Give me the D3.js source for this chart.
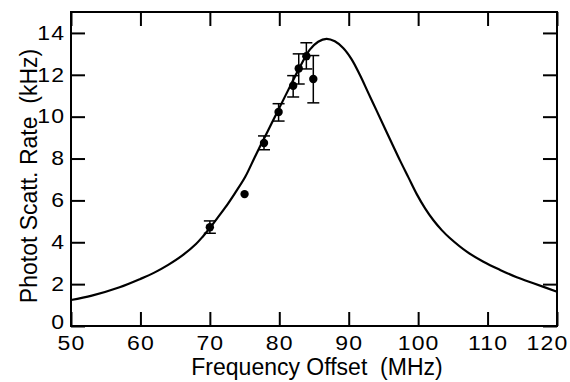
<!DOCTYPE html>
<html>
<head>
<meta charset="utf-8">
<script src="https://cdn.jsdelivr.net/npm/d3@7"></script>
<style>
  body { margin: 0; background: #fff; }
  svg { display: block; }
  .tick text { font-family: "Liberation Sans", Arial, Helvetica, sans-serif; font-size: 19.5px; letter-spacing: 1px; fill: #000; }
  .title { font-family: "Liberation Sans", Arial, Helvetica, sans-serif; font-size: 23px; fill: #000; white-space: pre; }
</style>
</head>
<body>
<div id="chart"></div>
<script>
// fitted curve (MHz, kHz)
const curveFreq = [50, 53, 57, 60, 62, 64, 66, 68, 69, 70, 71, 72.2, 73.6, 75.1, 76.5, 77.7, 78.9, 80.1, 81.3, 83, 84.4, 85.6, 86.8, 88, 89.2, 90.4, 91.6, 92.8, 94, 95.2, 96.4, 97.4, 98.6, 99.8, 101, 102.2, 103.4, 104.6, 107, 109.4, 111.8, 114.2, 116.6, 120];
const curveRate = [1.24, 1.45, 1.85, 2.25, 2.55, 2.92, 3.36, 3.92, 4.28, 4.68, 5.12, 5.65, 6.34, 7.13, 8.09, 8.89, 9.68, 10.48, 11.28, 12.39, 13.2, 13.58, 13.72, 13.6, 13.28, 12.75, 12.0, 11.15, 10.3, 9.45, 8.6, 7.9, 7.1, 6.3, 5.62, 5.05, 4.58, 4.19, 3.55, 3.07, 2.68, 2.33, 2.04, 1.64];

// measured points with error bars
const ptFreq = [70, 75, 77.8, 79.9, 82, 82.8, 83.9, 84.9];
const ptRate = [4.72, 6.3, 8.74, 10.22, 11.48, 12.3, 12.89, 11.8];
const ptLow  = [4.43, 6.3, 8.42, 9.79, 10.94, 11.56, 12.28, 10.66];
const ptHigh = [5.02, 6.3, 9.08, 10.62, 11.96, 13.0, 13.53, 12.92];

const xTicks = [50, 60, 70, 80, 90, 100, 110, 120];
const yTicks = [0, 2, 4, 6, 8, 10, 12, 14];

const W = 570, H = 382;
const margin = {top: 12, right: 13, bottom: 56, left: 71};
const width = W - margin.left - margin.right;
const height = H - margin.top - margin.bottom;

const svg = d3.select("#chart").append("svg")
    .attr("width", W)
    .attr("height", H);

const g = svg.append("g")
    .attr("transform", `translate(${margin.left},${margin.top})`);

const x = d3.scaleLinear().domain([50, 120]).range([0, width]);
const y = d3.scaleLinear().domain([0, 15]).range([height, 0]);

const tickLen = 14;
const stretch = 1.18; // tick digits are drawn wide in the original

// axes, ticks pointing inward
const xAxis = g.append("g")
    .attr("transform", `translate(0,${height})`)
    .call(d3.axisBottom(x).tickValues(xTicks).tickSize(-tickLen).tickPadding(10).tickFormat(d3.format("d")));
g.append("g")
    .call(d3.axisTop(x).tickValues(xTicks).tickSize(-tickLen).tickFormat(""));
const yAxis = g.append("g")
    .call(d3.axisLeft(y).tickValues(yTicks).tickSize(-tickLen).tickPadding(5).tickFormat(d3.format("d")));
g.append("g")
    .attr("transform", `translate(${width},0)`)
    .call(d3.axisRight(y).tickValues(yTicks).tickSize(-tickLen).tickFormat(""));

g.selectAll(".domain").remove();
g.selectAll(".tick line").attr("stroke", "#000").attr("stroke-width", 2);

xAxis.selectAll(".tick text").attr("transform", `scale(${stretch},1)`);
yAxis.selectAll(".tick text").attr("transform", `scale(${stretch},1)`);
// the "0" sits a little above its tick, clear of the "50"
yAxis.selectAll(".tick text").filter(d => d === 0).attr("y", -4);
// keep the last x label inside the picture
xAxis.selectAll(".tick text").filter(d => d === 120)
    .attr("text-anchor", "end")
    .attr("x", 11 / stretch);

// frame
g.append("rect")
    .attr("width", width)
    .attr("height", height)
    .attr("fill", "none")
    .attr("stroke", "#000")
    .attr("stroke-width", 2);

// fitted curve
const curve = curveFreq.map((f, i) => [f, curveRate[i]]);
g.append("path")
    .datum(curve)
    .attr("fill", "none")
    .attr("stroke", "#000")
    .attr("stroke-width", 2.2)
    .attr("d", d3.line().x(d => x(d[0])).y(d => y(d[1])).curve(d3.curveCatmullRom.alpha(0.5)));

// data points
const pts = ptFreq.map((f, i) => ({f, v: ptRate[i], lo: ptLow[i], hi: ptHigh[i]}));
const cap = 6;
const eb = g.append("g").attr("stroke", "#000").attr("stroke-width", 1.5);
pts.filter(d => d.hi > d.lo).forEach(d => {
  eb.append("line").attr("x1", x(d.f)).attr("x2", x(d.f)).attr("y1", y(d.lo)).attr("y2", y(d.hi));
  eb.append("line").attr("x1", x(d.f) - cap).attr("x2", x(d.f) + cap).attr("y1", y(d.lo)).attr("y2", y(d.lo));
  eb.append("line").attr("x1", x(d.f) - cap).attr("x2", x(d.f) + cap).attr("y1", y(d.hi)).attr("y2", y(d.hi));
});
g.selectAll("circle.pt")
  .data(pts)
  .join("circle")
    .attr("class", "pt")
    .attr("cx", d => x(d.f))
    .attr("cy", d => y(d.v))
    .attr("r", 4.2)
    .attr("fill", "#000");

// axis titles
svg.append("text")
    .attr("class", "title")
    .attr("x", 317)
    .attr("y", 375)
    .attr("text-anchor", "middle")
    .text("Frequency Offset  (MHz)");
svg.append("text")
    .attr("class", "title")
    .attr("transform", "translate(37,176) rotate(-90)")
    .attr("text-anchor", "middle")
    .text("Photot Scatt. Rate  (kHz)");
</script>
</body>
</html>
